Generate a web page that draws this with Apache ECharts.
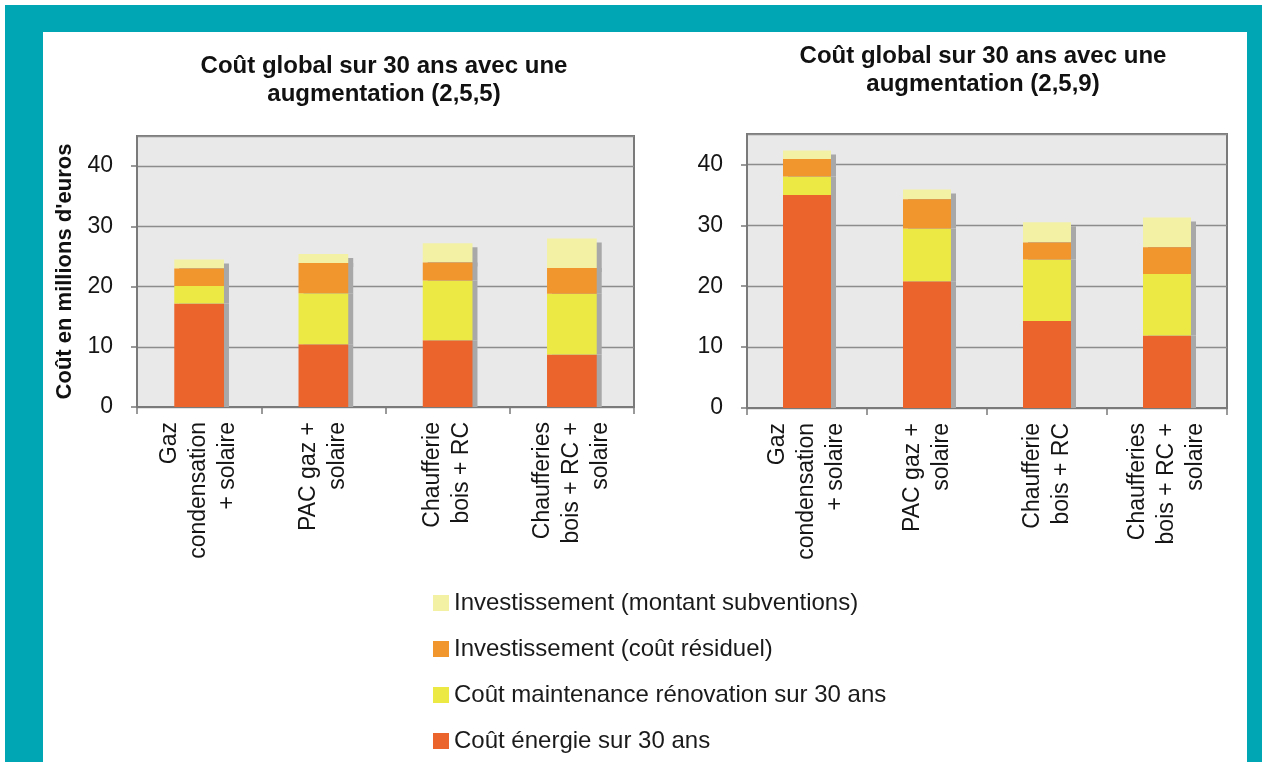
<!DOCTYPE html>
<html>
<head>
<meta charset="utf-8">
<script src="https://cdn.jsdelivr.net/npm/echarts@6.0.0/dist/echarts.min.js"></script>
<style>
  html, body { margin: 0; padding: 0; background: #fff; }
  #frame { position: absolute; left: 5px; top: 5px; width: 1257px; height: 780px; background: #00a6b4; }
  #panel { position: absolute; left: 43px; top: 32px; width: 1204px; height: 760px; background: #fff; }
  #chart { position: absolute; left: 0; top: 0; width: 1266px; height: 762px; }
</style>
</head>
<body>
<div id="frame"></div>
<div id="panel"></div>
<div id="chart"></div>
<script>
// categories and values (millions d'euros)
var categories = ['Gaz\ncondensation\n+ solaire', 'PAC gaz +\nsolaire', 'Chaufferie\nbois + RC', 'Chaufferies\nbois + RC +\nsolaire'];
var seriesNames = ['Coût énergie sur 30 ans', 'Coût maintenance rénovation sur 30 ans', 'Investissement (coût résiduel)', 'Investissement (montant subventions)'];
var yTicks = [0, 10, 20, 30, 40];

// augmentation (2,5,5)
var energie255 = [17.2, 10.4, 11.1, 8.7];
var maintenance255 = [2.9, 8.5, 9.9, 10.1];
var residuel255 = [2.9, 5.0, 3.0, 4.3];
var subventions255 = [1.5, 1.5, 3.2, 4.9];

// augmentation (2,5,9)
var energie259 = [35.0, 20.8, 14.3, 11.9];
var maintenance259 = [3.0, 8.7, 10.1, 10.1];
var residuel259 = [2.9, 4.8, 2.8, 4.4];
var subventions259 = [1.4, 1.6, 3.3, 4.9];

var colors = ['#ea642b', '#ede944', '#f0962d', '#f3f1a4'];
var font = '"Liberation Sans", Arial, Helvetica, sans-serif';

var chart = echarts.init(document.getElementById('chart'), null, { renderer: 'canvas' });

function xAxis(idx) {
  return {
    type: 'category',
    gridIndex: idx,
    data: categories,
    axisLine: { lineStyle: { color: '#7a7a7a', width: 2 } },
    axisTick: { show: true, length: 7, lineStyle: { color: '#7a7a7a', width: 1.5 } },
    axisLabel: {
      rotate: 90,
      margin: 15,
      fontSize: 23,
      lineHeight: 29,
      color: '#151515',
      fontFamily: font
    }
  };
}

function yAxis(idx, withName) {
  var ax = {
    type: 'value',
    gridIndex: idx,
    min: yTicks[0],
    max: 45,
    interval: 10,
    axisLine: { show: true, lineStyle: { color: '#7a7a7a', width: 2 } },
    axisTick: { show: true, length: 6, lineStyle: { color: '#7a7a7a', width: 1.5 } },
    axisLabel: {
      margin: 24,
      fontSize: 23,
      color: '#151515',
      fontFamily: font,
      showMaxLabel: false
    },
    splitLine: { show: true, lineStyle: { color: '#8c8c8c', width: 1.3 } }
  };
  if (withName) {
    ax.name = "Coût en millions d'euros";
    ax.nameLocation = 'middle';
    ax.nameRotate = 90;
    ax.nameGap = 61;
    ax.nameTextStyle = { fontSize: 22, fontWeight: 'bold', color: '#111', fontFamily: font };
  }
  return ax;
}

function barSeries(name, data, idx, k) {
  var top = (k === 3);
  return {
    name: name,
    type: 'bar',
    stack: 'chart' + idx,
    xAxisIndex: idx,
    yAxisIndex: idx,
    barWidth: '40%',
    z: top ? 1 : 2,
    data: data,
    itemStyle: {
      color: colors[k],
      shadowColor: '#a8a8a8',
      shadowBlur: 0,
      shadowOffsetX: 5,
      shadowOffsetY: top ? 4 : 0
    },
    emphasis: { disabled: true }
  };
}

var set255 = [energie255, maintenance255, residuel255, subventions255];
var set259 = [energie259, maintenance259, residuel259, subventions259];
var series = [];
set255.forEach(function (d, k) { series.push(barSeries(seriesNames[k], d, 0, k)); });
set259.forEach(function (d, k) { series.push(barSeries(seriesNames[k], d, 1, k)); });

var option = {
  animation: false,
  backgroundColor: 'transparent',
  color: colors,
  title: [{
    text: 'Coût global sur 30 ans avec une\naugmentation (2,5,5)',
    left: 379,
    top: 47,
    textAlign: 'center',
    textStyle: { fontSize: 24, fontWeight: 'bold', lineHeight: 28, color: '#111', fontFamily: font }
  }, {
    text: 'Coût global sur 30 ans avec une\naugmentation (2,5,9)',
    left: 978,
    top: 37,
    textAlign: 'center',
    textStyle: { fontSize: 24, fontWeight: 'bold', lineHeight: 28, color: '#111', fontFamily: font }
  }],
  legend: {
    orient: 'vertical',
    left: 433,
    top: 591,
    padding: 0,
    itemWidth: 16,
    itemHeight: 16,
    itemGap: 22,
    icon: 'rect',
    selectedMode: false,
    data: seriesNames.slice().reverse(),
    textStyle: { fontSize: 24, lineHeight: 24, color: '#1a1a1a', fontFamily: font }
  },
  grid: [{
    left: 137, top: 136, width: 497, height: 271,
    show: true, backgroundColor: '#e8e9e8', borderColor: '#7a7a7a', borderWidth: 2
  }, {
    left: 747, top: 134, width: 480, height: 274,
    show: true, backgroundColor: '#e8e9e8', borderColor: '#7a7a7a', borderWidth: 2
  }],
  xAxis: [xAxis(0), xAxis(1)],
  yAxis: [yAxis(0, true), yAxis(1, false)],
  series: series
};

chart.setOption(option);
</script>
</body>
</html>
